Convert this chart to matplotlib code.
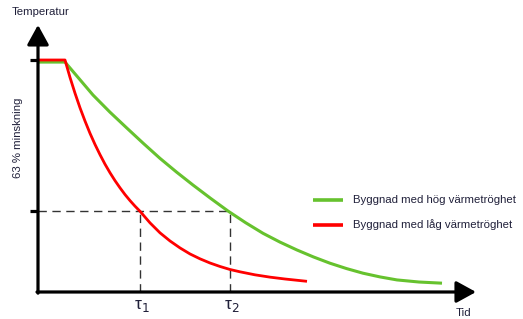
import matplotlib
matplotlib.use("Agg")
import matplotlib.pyplot as plt

# Temperatur (% av starttemperatur) mot tid
tid_lag = [0, 2.7, 3.2, 3.7, 4.2, 4.7, 5.2, 5.7, 6.2, 6.7, 7.2, 7.7, 8.2, 8.7, 9.2, 9.7, 10.2,
           11.2, 12.2, 13.2, 14.2, 15.2, 16.2, 17.2, 18.2, 19.2, 20.2, 21.7, 23.2, 24.7, 26.9]
temp_lag = [100, 100, 92.5, 85.7, 79.4, 73.7, 68.4, 63.6, 59.2, 55.1, 51.4, 48.0, 44.9, 42.0, 39.4, 37.0, 34.8,
            29.8, 25.5, 22.0, 19.0, 16.4, 14.3, 12.5, 11.0, 9.7, 8.7, 7.4, 6.4, 5.6, 4.6]

tid_hog = [0, 2.7, 4.1, 5.5, 7.2, 8.9, 10.55, 12.2, 13.85, 15.5, 17.25, 19.0, 20.75, 22.5,
           24.2, 25.9, 27.55, 29.2, 30.85, 32.5, 34.2, 35.9, 38.1, 40.4]
temp_hog = [99.1, 99.1, 92.0, 84.9, 77.5, 70.6, 64.0, 57.6, 51.7, 46.1, 40.4, 34.9, 29.9, 25.3,
            21.5, 18.1, 15.1, 12.4, 10.1, 8.1, 6.5, 5.2, 4.3, 3.8]

niva_63 = 34.7          # 37 % kvar = 63 % minskning
tau = [10.2, 19.2]      # tidskonstanter
tau_etiketter = ["τ$_1$", "τ$_2$"]
legend_texter = ["Byggnad med hög värmetröghet", "Byggnad med låg värmetröghet"]

plt.rcParams['font.family'] = ['Liberation Sans', 'DejaVu Sans']
textfarg = '#20203a'
gron = '#66c22e'
rod = '#ff0000'

fig = plt.figure(figsize=(5.23, 3.19), dpi=100)
ax = fig.add_axes([0, 0, 1, 1])
ax.set_xlim(-3.8, 48.5)
ax.set_ylim(-11.64, 125.86)
ax.axis('off')

# streckade hjälplinjer
ax.plot([0, tau[1]], [niva_63, niva_63], color='#333333', lw=1, dashes=(6, 4))
for t in tau:
    ax.plot([t, t], [0, niva_63], color='#333333', lw=1, dashes=(6, 4))

# kurvor
ax.plot(tid_hog, temp_hog, color=gron, lw=2.2, solid_capstyle='butt', solid_joinstyle='round')
ax.plot(tid_lag, temp_lag, color=rod, lw=2.0, solid_capstyle='butt', solid_joinstyle='round')

# axlar med pilar
pil = dict(arrowstyle='-|>,head_length=0.6,head_width=0.33', lw=2.3, color='black',
           shrinkA=0, shrinkB=0, mutation_scale=20)
ax.annotate('', xy=(0, 115.1), xytext=(0, -0.5), arrowprops=pil)
ax.annotate('', xy=(43.8, 0), xytext=(-0.1, 0), arrowprops=pil)
for niva in [100, niva_63]:
    ax.plot([-0.8, 0], [niva, niva], color='black', lw=2.3, solid_capstyle='butt')

# texter
ax.text(-2.6, 120.5, "Temperatur", fontsize=8.2, color=textfarg, va='center', ha='left')
ax.text(-2.0, 66.4, "63 % minskning", fontsize=8.2, color=textfarg, rotation=90,
        va='center', ha='center')
ax.text(42.5, -9.0, "Tid", fontsize=8.2, color=textfarg, va='center', ha='center')
for t, etikett in zip(tau, tau_etiketter):
    ax.text(t + 0.2, -7.3, etikett, fontsize=12.5, color=textfarg, va='baseline', ha='center')

# legend
for i, (farg, text) in enumerate(zip([gron, rod], legend_texter)):
    yy = 39.7 - i * 10.8
    ax.plot([27.5, 30.5], [yy, yy], color=farg, lw=2.6, solid_capstyle='butt')
    ax.text(31.5, yy, text, fontsize=8.2, color=textfarg, va='center', ha='left')

fig.savefig('out.png', dpi=100)
